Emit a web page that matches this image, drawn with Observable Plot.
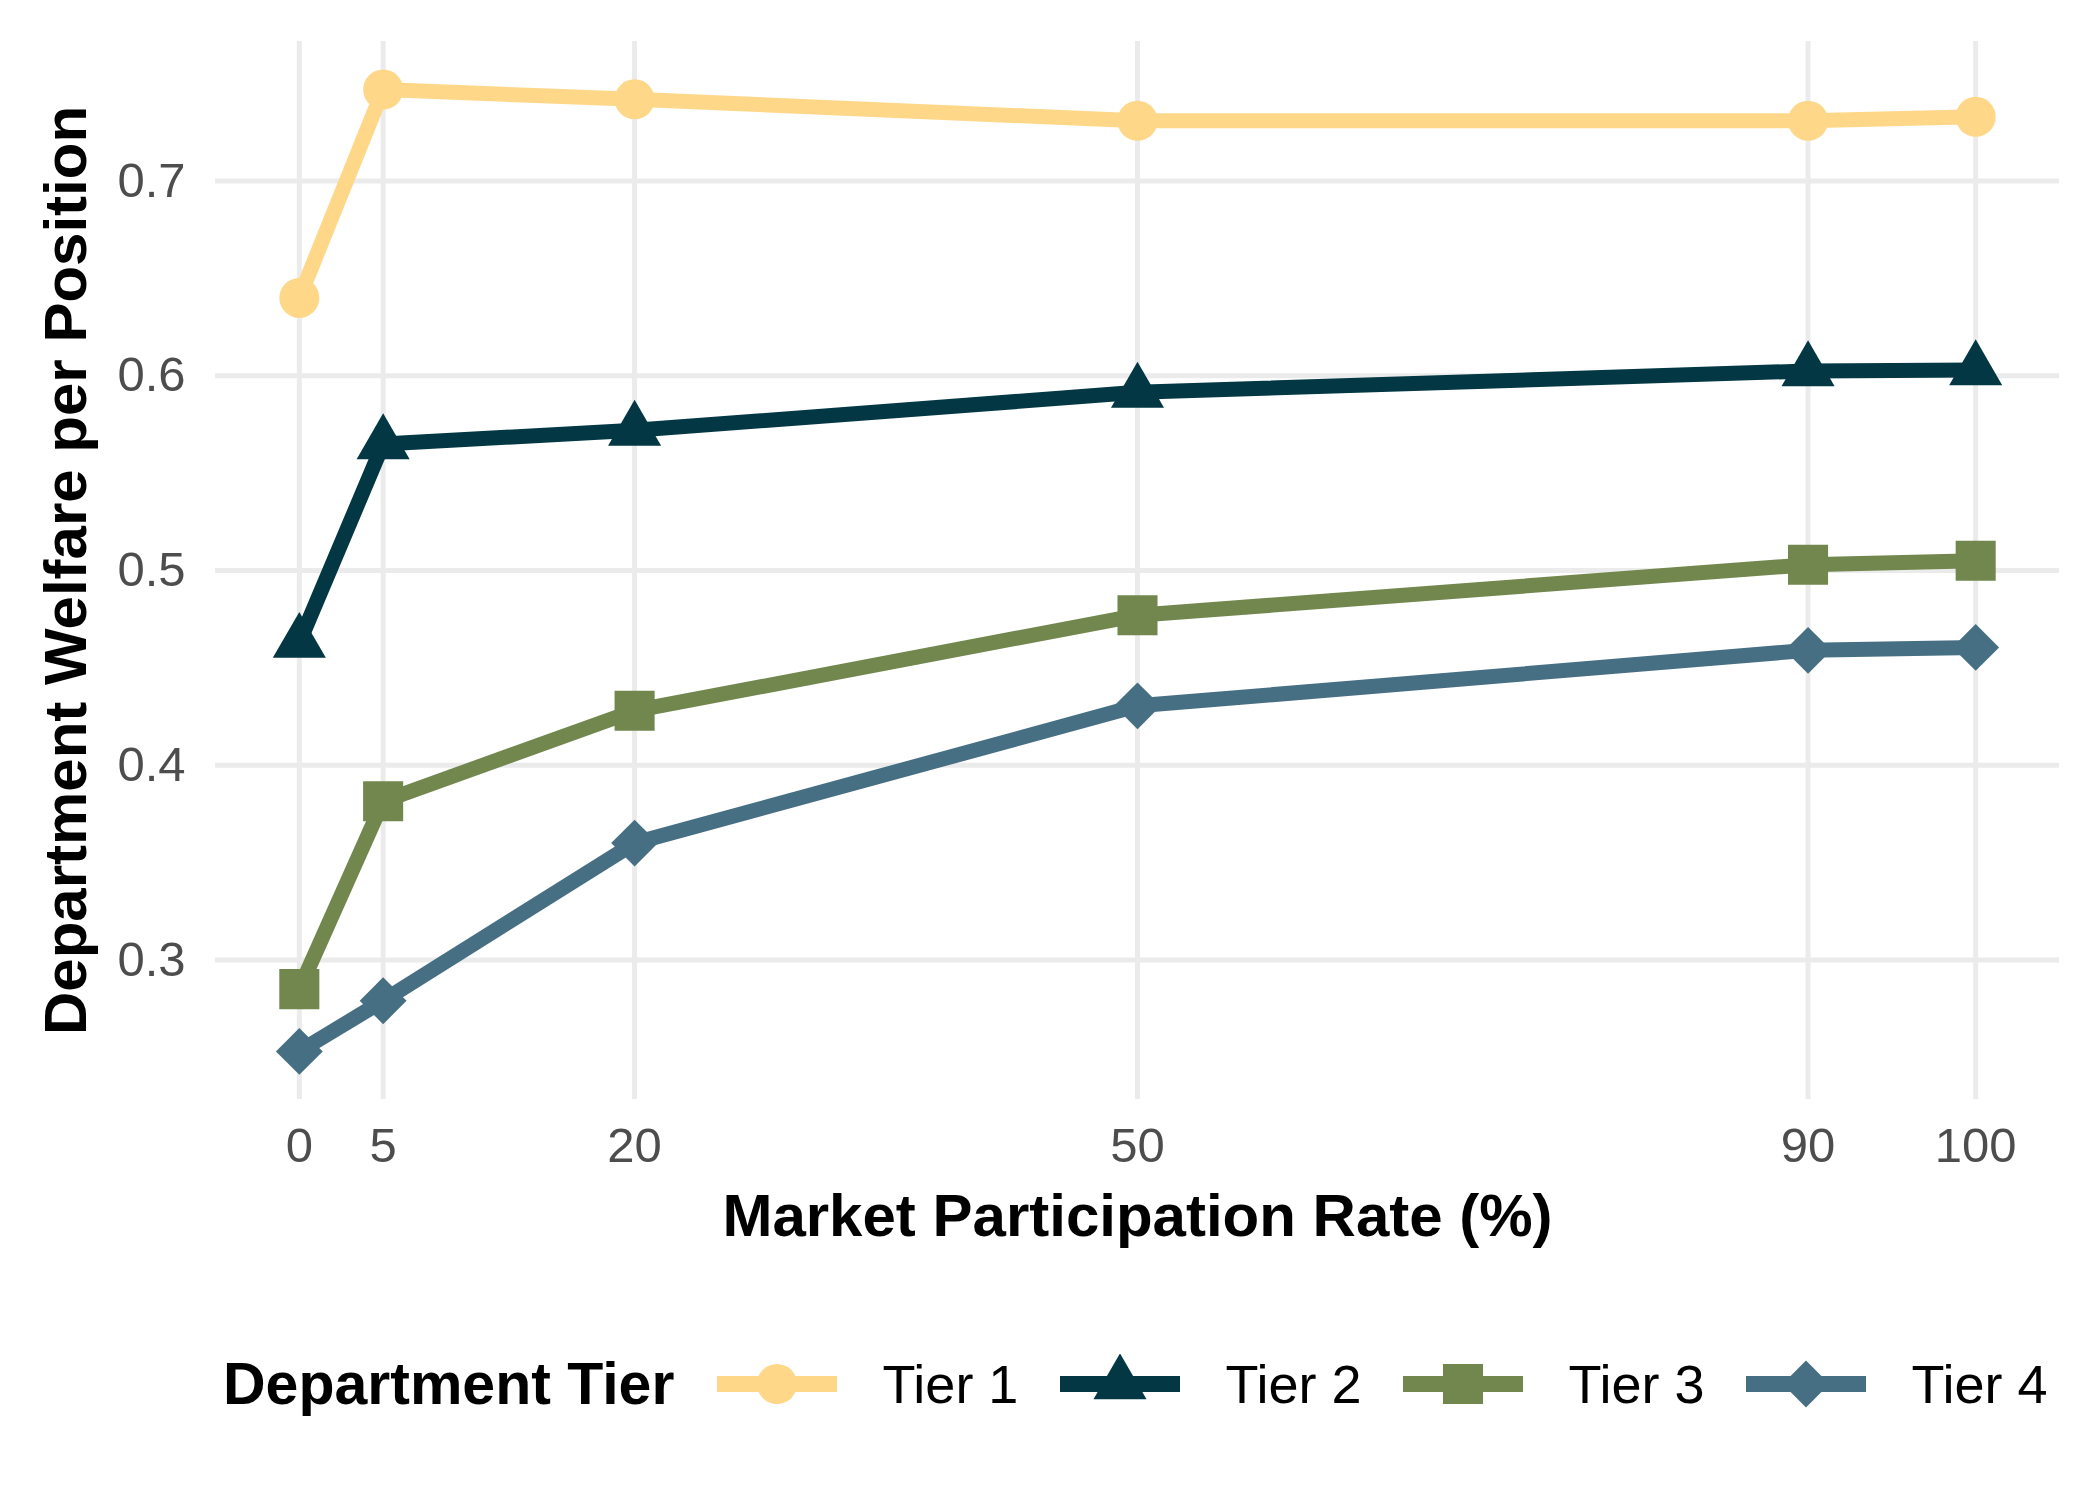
<!DOCTYPE html>
<html>
<head>
<meta charset="utf-8">
<script src="https://cdn.jsdelivr.net/npm/d3@7"></script>
<script src="https://cdn.jsdelivr.net/npm/@observablehq/plot@0.6"></script>
<style>
  html, body { margin: 0; padding: 0; background: #ffffff; }
  #wrap { width: 2100px; font-family: "Liberation Sans", Arial, Helvetica, sans-serif; }
  #legend { display: flex; align-items: center; height: 188px; box-sizing: border-box; padding-left: 223px; white-space: nowrap; }
  #legend > * { flex: 0 0 auto; }
  #legend .ltitle { font-weight: bold; font-size: 59px; line-height: 1; margin-right: 43px; color: #000; }
  #legend .lab { font-size: 54px; line-height: 1; margin-left: 45px; margin-right: 42px; color: #000; }
  #legend svg { display: block; }
</style>
</head>
<body>
<div id="wrap"></div>
<script>
// ---- data ----
const rates = [0, 5, 20, 50, 90, 100];
const tiers = ["Tier 1", "Tier 2", "Tier 3", "Tier 4"];
const tier1 = [0.640, 0.747, 0.742, 0.731, 0.731, 0.733];
const tier2 = [0.463, 0.565, 0.572, 0.5915, 0.6025, 0.603];
const tier3 = [0.285, 0.3815, 0.428, 0.477, 0.503, 0.505];
const tier4 = [0.253, 0.279, 0.360, 0.4305, 0.459, 0.4605];
const xTicks = [0, 5, 20, 50, 90, 100];
const yTicks = [0.3, 0.4, 0.5, 0.6, 0.7];
const colors = ["#FED789", "#023743", "#72874E", "#476F84"];
const symbols = ["circle", "triangle", "square", "diamond2"];
const radii = [20, 19.7, 22.6, 21.1];
const xTitle = "Market Participation Rate (%)";
const yTitle = "Department Welfare per Position";
const legendTitle = "Department Tier";

const series = [tier1, tier2, tier3, tier4];
const data = [];
series.forEach((vals, i) => vals.forEach((v, j) => data.push({tier: tiers[i], rate: rates[j], value: v})));

const font = "'Liberation Sans', Arial, Helvetica, sans-serif";

const dotMarks = tiers.map((t, i) =>
  Plot.dot(data.filter(d => d.tier === t), {
    x: "rate", y: "value", fill: colors[i], symbol: symbols[i], r: radii[i]
  })
);

const chart = Plot.plot({
  width: 2100,
  height: 1290,
  marginTop: 41,
  marginBottom: 191,
  marginLeft: 215,
  marginRight: 41,
  style: {fontFamily: font, background: "#ffffff", overflow: "visible"},
  x: {domain: [-5, 105]},
  y: {domain: [0.2283, 0.7717]},
  color: {domain: tiers, range: colors},
  marks: [
    Plot.gridX(xTicks, {stroke: "#EBEBEB", strokeOpacity: 1, strokeWidth: 5}),
    Plot.gridY(yTicks, {stroke: "#EBEBEB", strokeOpacity: 1, strokeWidth: 5}),
    Plot.axisX(xTicks, {tickSize: 0, tickPadding: 28, fontSize: 49, color: "#4D4D4D", label: null}),
    Plot.axisY(yTicks, {tickSize: 0, tickPadding: 30, fontSize: 49, color: "#4D4D4D", label: null, tickFormat: d => d.toFixed(1)}),
    Plot.line(data, {x: "rate", y: "value", z: "tier", stroke: "tier", strokeWidth: 15, strokeLinejoin: "round", strokeLinecap: "butt"}),
    ...dotMarks,
    Plot.text([xTitle], {frameAnchor: "bottom", text: d => d, textAnchor: "middle", dy: 117, lineAnchor: "middle", fontSize: 60, fontWeight: "bold", fill: "#000"}),
    Plot.text([yTitle], {frameAnchor: "left", text: d => d, textAnchor: "middle", dx: -149, rotate: -90, lineAnchor: "middle", fontSize: 60, fontWeight: "bold", fill: "#000"})
  ]
});

const wrap = document.getElementById("wrap");
wrap.appendChild(chart);

// ---- legend ----
const legend = d3.select(wrap).append("div").attr("id", "legend");
legend.append("span").attr("class", "ltitle").text(legendTitle);
const symMap = {circle: d3.symbolCircle, triangle: d3.symbolTriangle, square: d3.symbolSquare, diamond2: d3.symbolDiamond2};
tiers.forEach((t, i) => {
  const s = legend.append("svg").attr("width", 120).attr("height", 60);
  s.append("line").attr("x1", 0).attr("x2", 120).attr("y1", 30).attr("y2", 30)
    .attr("stroke", colors[i]).attr("stroke-width", 16);
  s.append("path").attr("transform", "translate(60,30)")
    .attr("d", d3.symbol(symMap[symbols[i]], radii[i] * radii[i] * Math.PI)())
    .attr("fill", colors[i]);
  legend.append("span").attr("class", "lab").text(t);
});
</script>
</body>
</html>
